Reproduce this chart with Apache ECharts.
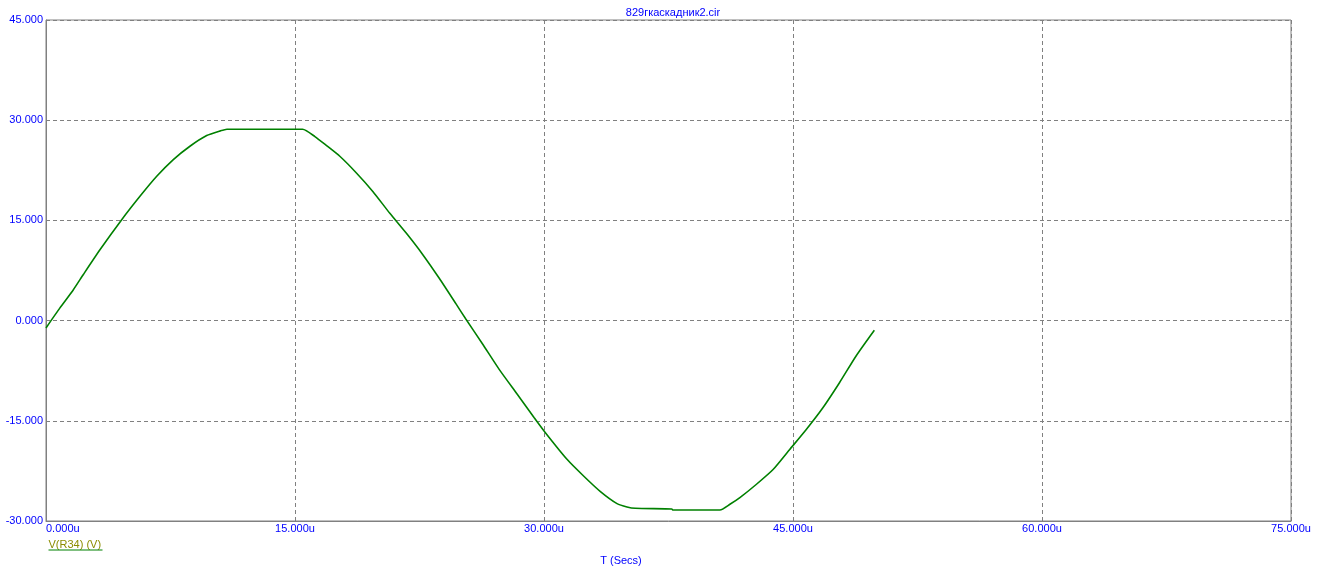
<!DOCTYPE html>
<html>
<head>
<meta charset="utf-8">
<script src="https://cdn.jsdelivr.net/npm/echarts@6/dist/echarts.min.js"></script>
<style>
  html, body { margin: 0; padding: 0; background: #fff; }
  #chart { width: 1320px; height: 576px; }
</style>
</head>
<body>
<div id="chart"></div>
<script>
// время, мкс
var timeUs = [0, 0.84, 1.65, 2.25, 3.25, 4.56, 5.66, 6.67, 7.67, 8.67, 9.68, 10.5, 10.9,
  15.46, 16.2, 16.9, 17.7, 18.7, 19.7, 20.7, 21.7, 22.7, 23.7, 24.7, 25.3, 26.3,
  27.3, 28.4, 29.4, 30.06, 31.4, 32.4, 33.4, 34.4, 35.0, 35.5, 37.7, 37.75, 40.6, 41.2,
  41.8, 42.8, 43.8, 44.8, 45.8, 46.8, 47.8, 48.8, 49.9];
// V(R34), В
var vR34 = [-1.1, 1.9, 4.63, 6.9, 10.6, 15.1, 18.6, 21.6, 24.1, 26.1, 27.7, 28.4, 28.65,
  28.65, 27.55, 26.2, 24.6, 22.1, 19.3, 16.1, 13.1, 9.87, 6.3, 2.5, 0.2, -3.5,
  -7.3, -11.06, -14.5, -16.7, -20.8, -23.3, -25.6, -27.4, -27.9, -28.1, -28.2, -28.35, -28.35, -27.5,
  -26.5, -24.5, -22.3, -19.3, -16.3, -13.05, -9.3, -5.3, -1.45];
var xTicks = [0, 15, 30, 45, 60, 75];
var yTicks = [-30, -15, 0, 15, 30, 45];

var FONT = 'Liberation Sans';
var BLUE = '#0000ff';
var GRAY = '#808080';

var seriesData = timeUs.map(function (t, i) { return [t, vR34[i]]; });

var myChart = echarts.init(document.getElementById('chart'));
myChart.setOption({
  animation: false,
  title: [{
    text: '829гкаскадник2.cir',
    left: 668, top: 2, textAlign: 'center',
    textStyle: { color: BLUE, fontSize: 11, fontWeight: 'normal', fontFamily: FONT }
  }, {
    text: 'T (Secs)',
    left: 616, top: 550, textAlign: 'center',
    textStyle: { color: BLUE, fontSize: 11, fontWeight: 'normal', fontFamily: FONT }
  }],
  grid: {
    left: 46, right: 29, top: 20, bottom: 55,
    show: true, borderColor: GRAY, borderWidth: 1
  },
  xAxis: {
    type: 'value',
    min: xTicks[0], max: xTicks[xTicks.length - 1], interval: 15,
    axisLine: { show: true, onZero: false, lineStyle: { color: GRAY } },
    axisTick: { show: false },
    splitLine: { show: true, lineStyle: { color: GRAY, type: [4, 3], width: 1 } },
    axisLabel: {
      color: BLUE, fontSize: 11, fontFamily: FONT, margin: 2,
      alignMinLabel: 'left',
      formatter: function (v) { return v.toFixed(3) + 'u'; }
    }
  },
  yAxis: {
    type: 'value',
    min: yTicks[0], max: yTicks[yTicks.length - 1], interval: 15,
    axisLine: { show: true, onZero: false, lineStyle: { color: GRAY } },
    axisTick: { show: false },
    splitLine: { show: true, lineStyle: { color: GRAY, type: [4, 3], width: 1 } },
    axisLabel: {
      color: BLUE, fontSize: 11, fontFamily: FONT, margin: 3,
      formatter: function (v) { return v.toFixed(3); }
    }
  },
  graphic: [{
    type: 'group', left: 46, top: 539,
    children: [{
      type: 'text',
      style: { text: 'V(R34) (V)', fill: '#8c8c00', font: '11px "Liberation Sans"' }
    }, {
      type: 'line',
      shape: { x1: 0, y1: 11, x2: 54, y2: 11 },
      style: { stroke: '#008000', lineWidth: 1 }
    }]
  }],
  series: [{
    name: 'V(R34) (V)',
    type: 'line',
    showSymbol: false,
    smooth: 0.2,
    data: seriesData,
    lineStyle: { color: '#008000', width: 1.6 },
    itemStyle: { color: '#008000' }
  }]
});
</script>
</body>
</html>
